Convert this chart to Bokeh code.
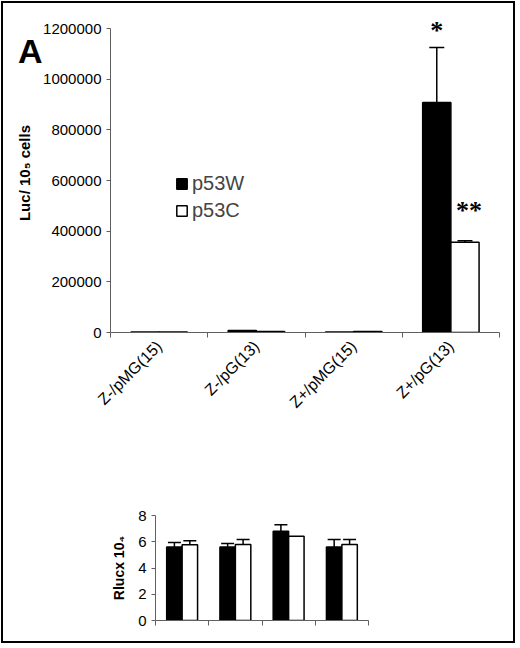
import math
from bokeh.plotting import figure
from bokeh.models import (FixedTicker, Legend, LegendItem, Whisker, TeeHead, Div,
                          ColumnDataSource, LabelSet, BasicTickFormatter, Range1d)
from bokeh.embed import file_html
from bokeh.resources import INLINE

# ---------------- data ----------------
categories = ["Z-/pMG(15)", "Z-/pG(13)", "Z+/pMG(15)", "Z+/pG(13)"]
series_names = ["p53W", "p53C"]
panel_letter = "A"

luc_p53w = [2000, 8000, 2000, 908000]
luc_p53w_err = [0, 0, 0, 218000]
luc_p53c = [1500, 4000, 4000, 356000]
luc_p53c_err = [0, 0, 0, 6000]
luc_stars_w = ["", "", "", "*"]
luc_stars_c = ["", "", "", "**"]
luc_ticks = [0, 200000, 400000, 600000, 800000, 1000000, 1200000]

rluc_p53w = [5.6, 5.6, 6.8, 5.6]
rluc_p53w_err = [0.35, 0.26, 0.5, 0.57]
rluc_p53c = [5.78, 5.8, 6.42, 5.8]
rluc_p53c_err = [0.3, 0.37, 0.0, 0.37]
rluc_ticks = [0, 2, 4, 6, 8]

FONT = "Liberation Sans"
AXIS_COL = "#606060"
BAR_W = 0.29
OFF = 0.145

centers = [i + 0.5 for i in range(len(categories))]
bounds = [float(i) for i in range(len(categories) + 1)]


def style_axes(p, ylabel, yticks, label_size, title_size, standoff):
    p.xgrid.visible = False
    p.ygrid.visible = False
    p.outline_line_color = None
    for ax in (p.xaxis[0], p.yaxis[0]):
        ax.axis_line_color = AXIS_COL
        ax.axis_line_width = 1
        ax.major_tick_line_color = AXIS_COL
        ax.major_tick_in = 0
        ax.major_tick_out = 4
        ax.minor_tick_line_color = None
        ax.major_label_text_font = FONT
        ax.major_label_text_color = "black"
    ya = p.yaxis[0]
    ya.ticker = FixedTicker(ticks=yticks)
    ya.bounds = (yticks[0], yticks[-1])
    ya.formatter = BasicTickFormatter(use_scientific=False)
    ya.major_label_text_font_size = label_size
    ya.axis_label = ylabel
    ya.axis_label_text_font = FONT
    ya.axis_label_text_font_style = "bold"
    ya.axis_label_text_font_size = title_size
    ya.axis_label_text_color = "black"
    ya.axis_label_standoff = standoff
    p.xaxis[0].bounds = (bounds[0], bounds[-1])


def add_bars(p, vals_w, errs_w, vals_c, errs_c, cap):
    xs_w = [c - OFF for c in centers]
    xs_c = [c + OFF for c in centers]
    rw = p.vbar(x=xs_w, top=vals_w, width=BAR_W, fill_color="black",
                line_color="black", line_width=1.5)
    rc = p.vbar(x=xs_c, top=vals_c, width=BAR_W, fill_color="white",
                line_color="black", line_width=1.5)
    for xs, vals, errs in ((xs_w, vals_w, errs_w), (xs_c, vals_c, errs_c)):
        sel = [i for i in range(len(vals)) if errs[i] > 0]
        src = ColumnDataSource(dict(x=[xs[i] for i in sel],
                                    lo=[vals[i] for i in sel],
                                    up=[vals[i] + errs[i] for i in sel]))
        wk = Whisker(source=src, base="x", lower="lo", upper="up",
                     dimension="height", line_color="black", line_width=1.5,
                     lower_head=None,
                     upper_head=TeeHead(size=cap, line_color="black", line_width=1.5))
        wk.level = "overlay"
        p.add_layout(wk)
    return rw, rc, xs_w, xs_c


# ---------------- top chart ----------------
p1 = figure(width=504, height=445, output_backend="svg", toolbar_location=None,
            x_range=Range1d(0, 4), y_range=Range1d(0, 1260000),
            min_border_left=110, min_border_right=5, min_border_top=13,
            min_border_bottom=113)
p1.background_fill_color = "white"
p1.border_fill_color = "white"
style_axes(p1, "Luc/ 10\u2085 cells", luc_ticks, "15px", "15px", 7)
xa = p1.xaxis[0]
xa.ticker = FixedTicker(ticks=centers, minor_ticks=bounds)
xa.major_label_overrides = {c: n for c, n in zip(centers, categories)}
xa.major_label_orientation = math.pi / 4
xa.major_label_text_font_size = "16px"
xa.major_tick_line_color = None
xa.major_tick_out = 0
xa.minor_tick_line_color = AXIS_COL
xa.minor_tick_in = 0
xa.minor_tick_out = 5
xa.major_label_standoff = 6

rw, rc, xs_w, xs_c = add_bars(p1, luc_p53w, luc_p53w_err, luc_p53c, luc_p53c_err, 15)

star_src = ColumnDataSource(dict(
    x=xs_w + xs_c,
    y=[v + e for v, e in zip(luc_p53w, luc_p53w_err)] + [v + e for v, e in zip(luc_p53c, luc_p53c_err)],
    t=luc_stars_w + luc_stars_c,
    yo=[8] * 4 + [22] * 4,
    xo=[0] * 4 + [4] * 4,
))
stars = LabelSet(x="x", y="y", text="t", source=star_src, y_offset="yo", x_offset="xo",
                 text_font=FONT, text_font_size="26px", text_font_style="bold",
                 text_align="center", text_baseline="alphabetic", text_color="black")
p1.add_layout(stars)

legend = Legend(items=[LegendItem(label=series_names[0], renderers=[rw]),
                       LegendItem(label=series_names[1], renderers=[rc])],
                location=(65, 110), border_line_color=None, background_fill_alpha=0,
                padding=0, margin=0, glyph_width=13, glyph_height=13,
                label_text_font=FONT, label_text_font_size="20px",
                label_standoff=4, spacing=4, label_height=22)
p1.add_layout(legend)

# ---------------- bottom chart ----------------
p2 = figure(width=504, height=194, output_backend="svg", toolbar_location=None,
            x_range=Range1d(0, 4), y_range=Range1d(0, 8),
            min_border_left=155, min_border_right=136, min_border_top=70,
            min_border_bottom=19)
p2.background_fill_color = "white"
p2.border_fill_color = "white"
style_axes(p2, "Rlucx 10\u2084", rluc_ticks, "15px", "14px", 8)
xa2 = p2.xaxis[0]
xa2.ticker = FixedTicker(ticks=bounds)
xa2.major_label_text_color = None
xa2.major_label_text_font_size = "1px"
xa2.major_label_standoff = 0
xa2.major_tick_out = 5

add_bars(p2, rluc_p53w, rluc_p53w_err, rluc_p53c, rluc_p53c_err, 13)

# panel letter and outer frame, positioned absolutely over the page
letter = Div(text=panel_letter,
             styles={"position": "absolute", "left": "18px", "top": "34px",
                     "font-family": FONT, "font-size": "34px", "font-weight": "bold",
                     "line-height": "34px", "color": "black", "margin": "0",
                     "padding": "0"})
frame_box = Div(text="", width=514, height=642,
                styles={"position": "absolute", "left": "1px", "top": "1px",
                        "border": "2px solid black", "pointer-events": "none",
                        "background": "transparent", "margin": "0", "padding": "0"})

# separate roots, so that Bokeh does not align the two plot frames
open("out.html", "w").write(file_html([p1, p2, letter, frame_box], INLINE))
